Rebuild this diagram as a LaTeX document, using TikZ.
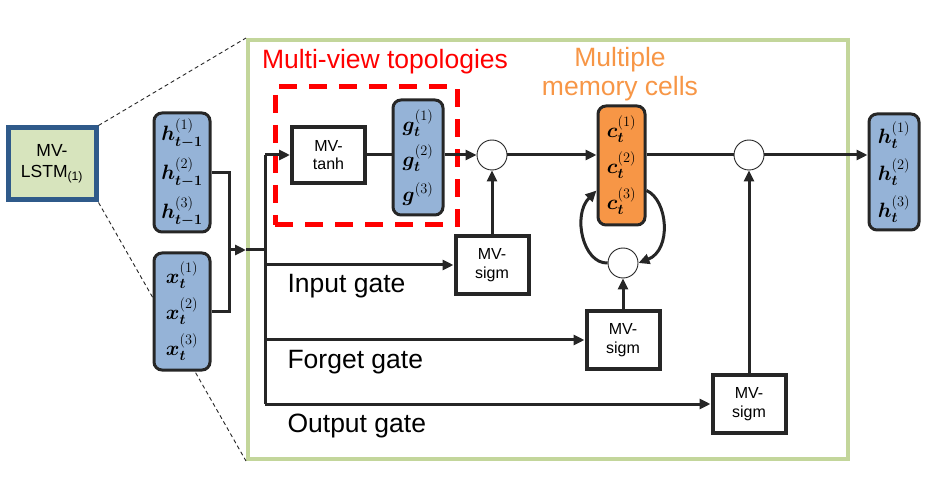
\documentclass[tikz,border=0pt]{standalone}
\usepackage{amsmath}
\usepackage{bm}
\usepackage{fontspec}
\setmainfont{Liberation Sans}
\usetikzlibrary{arrows.meta}

\definecolor{vecblue}{HTML}{95B3D7}
\definecolor{memorange}{HTML}{F79646}
\definecolor{lstmgreen}{HTML}{D7E4BD}
\definecolor{lstmblue}{HTML}{2F5A8A}
\definecolor{framegreen}{HTML}{C3D69B}
\definecolor{ink}{HTML}{262626}

\begin{document}
\begin{tikzpicture}[x=1pt, y=-1pt,
  sigbox/.style={draw=ink, line width=4pt, fill=white, minimum width=73pt, minimum height=58pt, inner sep=0pt, align=center, font=\fontsize{16}{18.5}\selectfont},
  vecbox/.style={draw=ink, line width=3pt, rounded corners=8pt, fill=vecblue, minimum width=56pt, inner sep=0pt, align=center, font=\fontsize{21}{39}\selectfont},
  joint/.style={circle, draw=ink, line width=0.9pt, fill=white, minimum size=30pt, inner sep=0pt},
  wire/.style={draw=ink, line width=3pt},
  arr/.style={wire, -{Triangle[length=11pt, width=10pt]}},
  gatelabel/.style={anchor=west, font=\fontsize{26.5}{30}\selectfont}]

\useasboundingbox (0,0) rectangle (938,481);

% left: the cell and its zoomed frame
\node (lstm) [draw=lstmblue, line width=5pt, fill=lstmgreen, minimum width=88pt, minimum height=72pt, inner sep=0pt, align=center, font=\fontsize{17.5}{21}\selectfont] at (52,164) {MV-\\LSTM\textsubscript{(1)}};
\node (frame) [draw=framegreen, line width=4pt, minimum width=600pt, minimum height=419pt, inner sep=0pt] at (548,249.5) {};
\draw[dash pattern=on 4pt off 3pt, line width=0.9pt, ink] (lstm.north east) -- (frame.north west);
\draw[dash pattern=on 4pt off 3pt, line width=0.9pt, ink] (lstm.south east) -- (frame.south west);

% inputs
\node (hprev) [vecbox, minimum height=119pt] at (182,172.5) {$\bm{h}^{(1)}_{\bm{t-1}}$\\$\bm{h}^{(2)}_{\bm{t-1}}$\\$\bm{h}^{(3)}_{\bm{t-1}}$};
\node (xin) [vecbox, minimum height=117pt, font=\fontsize{21}{36}\selectfont] at (182,311.5) {$\bm{x}^{(1)}_{\bm{t}}$\\$\bm{x}^{(2)}_{\bm{t}}$\\$\bm{x}^{(3)}_{\bm{t}}$};
\coordinate (join) at (229,250);
\coordinate (split) at (265,250);
\draw[wire] (hprev.east) -| (join);
\draw[wire] (xin.east) -| (join);
\draw[arr] (join) -- (frame.west |- join);
\draw[wire] (frame.west |- join) -- (split);

% multi-view topologies
\node (topo) [draw=red, line width=5pt, dash pattern=on 18pt off 12pt, minimum width=182pt, minimum height=138pt, inner sep=0pt] at (366,156) {};
\node (topolabel) [text=red, font=\fontsize{26.5}{30}\selectfont] at (385,62) {Multi-view topologies};
\node (tanh) [sigbox, minimum height=56pt] at (328.5,155) {MV-\\tanh};
\node (gvec) [vecbox, minimum width=50pt, minimum height=115pt, font=\fontsize{21}{35}\selectfont] at (418,157.5) {$\bm{g}^{(1)}_{\bm{t}}$\\$\bm{g}^{(2)}_{\bm{t}}$\\$\bm{g}^{(3)}$};

% gates
\node (sigi) [sigbox] at (492,265) {MV-\\sigm};
\node (sigf) [sigbox] at (623,340) {MV-\\sigm};
\node (sigo) [sigbox] at (749,404) {MV-\\sigm};
\node (joini) [joint] at (492,155) {};
\node (joinf) [joint] at (623,263) {};
\node (joino) [joint] at (749,155) {};

% memory cells and output
\node (memlabel) [text=memorange, align=center, font=\fontsize{26.5}{29}\selectfont] at (620,74) {Multiple\\memory cells};
\node (cvec) [vecbox, fill=memorange, minimum width=47pt, minimum height=119pt, font=\fontsize{21}{36}\selectfont] at (621.5,165.5) {$\bm{c}^{(1)}_{\bm{t}}$\\$\bm{c}^{(2)}_{\bm{t}}$\\$\bm{c}^{(3)}_{\bm{t}}$};
\node (hout) [vecbox, minimum width=50pt, minimum height=116pt, font=\fontsize{21}{37}\selectfont] at (894,172) {$\bm{h}^{(1)}_{\bm{t}}$\\$\bm{h}^{(2)}_{\bm{t}}$\\$\bm{h}^{(3)}_{\bm{t}}$};

% connectors
\draw[wire] (split |- tanh.west) -- (split |- sigo.west);
\draw[arr] (split |- tanh.west) -- (tanh.west);
\draw[arr] (split |- sigi.west) -- (sigi.west);
\draw[arr] (split |- sigf.west) -- (sigf.west);
\draw[arr] (split |- sigo.west) -- (sigo.west);
\draw[wire] (tanh.east) -- (tanh.east -| gvec.west);
\draw[arr] (gvec.east |- joini.west) -- (joini.west);
\draw[arr] (sigi.north) -- (joini.south);
\draw[arr] (joini.east) -- (joini.east -| cvec.west);
\draw[arr] (sigf.north) -- (joinf.south);
\draw[arr] (cvec.-45) .. controls (668,200) and (672,250) .. (joinf.east);
\draw[arr] (joinf.west) .. controls (583,264) and (572,215) .. (cvec.-135);
\draw[wire] (cvec.east |- joino.west) -- (joino.west);
\draw[arr] (sigo.north) -- (joino.south);
\draw[arr] (joino.east) -- (joino.east -| hout.west);

\node (inlabel) [gatelabel] at (284,286) {Input gate};
\node (forlabel) [gatelabel] at (284,362) {Forget gate};
\node (outlabel) [gatelabel] at (284,426) {Output gate};

\end{tikzpicture}
\end{document}
